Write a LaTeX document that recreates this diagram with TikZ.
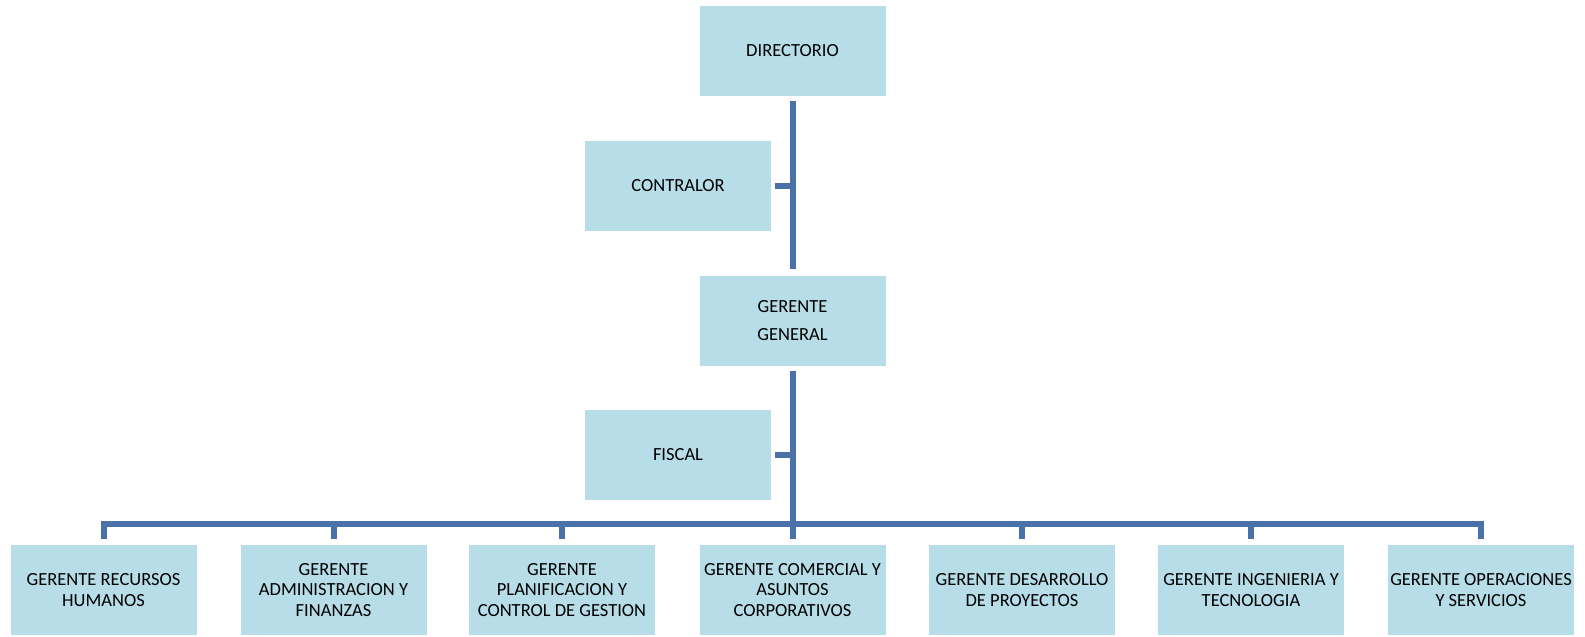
\documentclass[tikz,border=0pt]{standalone}
\usepackage{fontspec}
\setmainfont{Carlito}
\definecolor{boxfill}{HTML}{B7DDE8}
\definecolor{lnblue}{HTML}{4A72A8}

\begin{document}
\begin{tikzpicture}[x=1pt,y=-1pt,
      bx/.style={fill=boxfill,rectangle,inner sep=0pt,
        font=\fontsize{18.5}{20.5}\selectfont,align=center,minimum width=186pt,minimum height=90pt},
      ln/.style={draw=lnblue,line width=6pt}]
    \useasboundingbox (0,0) rectangle (1585,637);
    \node[bx](dir) at (792.5,51)   {DIRECTORIO};
    \node[bx](ctr) at (678,185.5)  {CONTRALOR};
    \node[bx,font=\fontsize{18.5}{28}\selectfont](gg) at (792.5,320.5) {GERENTE\\GENERAL};
    \node[bx](fis) at (678,455)    {FISCAL};
    \node[bx](g1) at (103.5,590)   {GERENTE RECURSOS\\HUMANOS};
    \node[bx](g2) at (333.5,590)   {GERENTE\\ADMINISTRACION Y\\FINANZAS};
    \node[bx](g3) at (562,590)     {GERENTE\\PLANIFICACION Y\\CONTROL DE GESTION};
    \node[bx](g4) at (792.5,590)   {GERENTE COMERCIAL Y\\ASUNTOS\\CORPORATIVOS};
    \node[bx](g5) at (1022,590)    {GERENTE DESARROLLO\\DE PROYECTOS};
    \node[bx](g6) at (1251,590)    {GERENTE INGENIERIA Y\\TECNOLOGIA};
    \node[bx](g7) at (1481,590)    {GERENTE OPERACIONES\\Y SERVICIOS};
    \coordinate (bar) at (792.5,524);
    % top part
    \draw[ln]([yshift=-5pt]dir.south)--([yshift=6pt]gg.north);
    \draw[ln]([xshift=4pt]ctr.east)--(ctr.east -| dir.south);
    \draw[ln]([yshift=-5pt]gg.south)--([yshift=6pt]g4.north);
    \draw[ln]([xshift=4pt]fis.east)--(fis.east -| gg.south);
    % bar to the managers
    \draw[ln,line join=miter]([yshift=6pt]g1.north)|-(bar)-|([yshift=6pt]g7.north);
    \draw[ln]([yshift=6pt]g2.north)--(g2.north |- bar);
    \draw[ln]([yshift=6pt]g3.north)--(g3.north |- bar);
    \draw[ln]([yshift=6pt]g5.north)--(g5.north |- bar);
    \draw[ln]([yshift=6pt]g6.north)--(g6.north |- bar);
  \end{tikzpicture}
\end{document}
